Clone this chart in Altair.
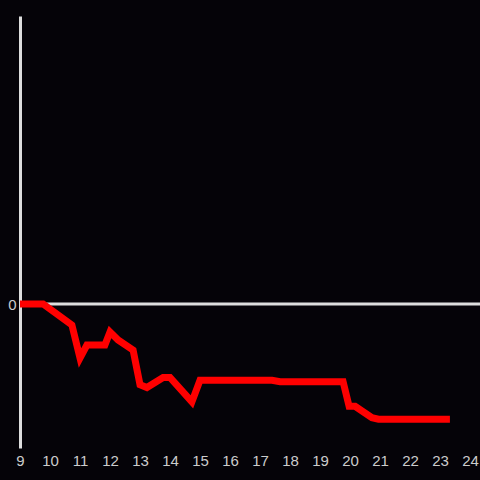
import altair as alt
import pandas as pd

xs = [9.0, 9.77, 10.73, 11.0, 11.23, 11.83, 12.0, 12.27, 12.77, 13.0, 13.23,
      13.77, 14.0, 14.73, 15.0, 17.4, 17.67, 19.77, 19.97, 20.17, 20.73, 20.95, 23.33]
ys = [0.0, 0.0, -0.146, -0.375, -0.285, -0.285, -0.194, -0.25, -0.32, -0.56, -0.58,
      -0.51, -0.51, -0.68, -0.53, -0.53, -0.54, -0.54, -0.71, -0.71, -0.79, -0.80, -0.80]
x_ticks = list(range(9, 25))
y_ticks = [0]

df = pd.DataFrame({"x": xs, "y": ys})

x_scale = alt.Scale(domain=[9, 24.333], nice=False, zero=False)
y_scale = alt.Scale(domain=[-1, 2], nice=False)

line = alt.Chart(df).mark_line(color="#ff0000", strokeWidth=7, strokeJoin="miter").encode(
    x=alt.X("x:Q", scale=x_scale,
            axis=alt.Axis(values=x_ticks, title=None, domain=False, ticks=False, grid=False,
                          labelColor="#cccccc", labelFontSize=15, labelFont="Liberation Sans",
                          labelPadding=5, labelFlush=False, format="d")),
    y=alt.Y("y:Q", scale=y_scale,
            axis=alt.Axis(values=y_ticks, title=None, domain=True, domainColor="#dddddd",
                          domainWidth=3, ticks=False, grid=False, labelColor="#cccccc",
                          labelFontSize=15, labelFont="Liberation Sans", labelPadding=4,
                          format="d")),
)

zero = alt.Chart(pd.DataFrame({"y": y_ticks})).mark_rule(color="#dddddd", strokeWidth=3).encode(
    y=alt.Y("y:Q", scale=y_scale)
)

chart = alt.layer(zero, line).properties(
    width=460, height=432, background="#050308",
    padding={"left": 20, "top": 16, "right": 0, "bottom": 32},
    autosize=alt.AutoSizeParams(type="none"),
).configure_view(stroke=None)

chart.save("out.html", embed_options={
    "renderer": "svg", "actions": False,
    "defaultStyle": "body{margin:0;background:#050308;overflow:hidden}",
})
